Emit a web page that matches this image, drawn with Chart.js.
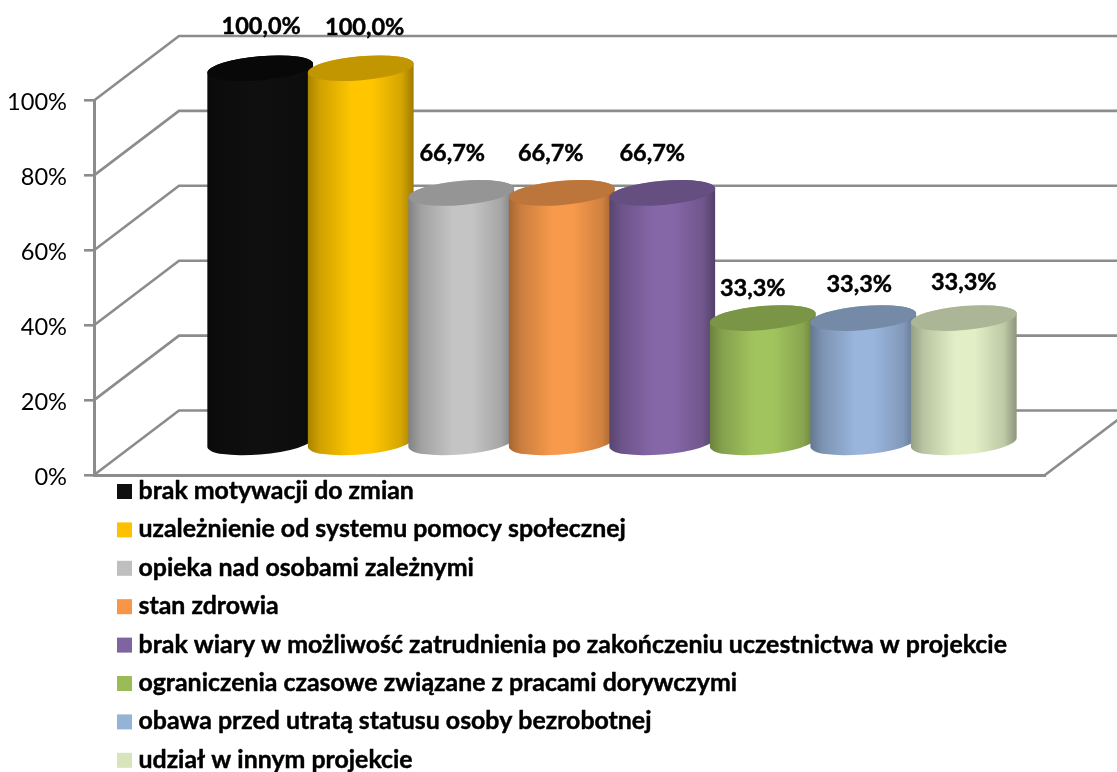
<!DOCTYPE html>
<html>
<head>
<meta charset="utf-8">
<style>html,body{margin:0;padding:0;background:#fff}canvas{display:block}</style>
<script src="https://cdn.jsdelivr.net/npm/chart.js@4"></script>
</head>
<body>
<canvas id="c" width="1117" height="772"></canvas>
<script>
const categories = ['Series'];
const seriesNames = [
  'brak motywacji do zmian',
  'uzależnienie od systemu pomocy społecznej',
  'opieka nad osobami zależnymi',
  'stan zdrowia',
  'brak wiary w możliwość zatrudnienia po zakończeniu uczestnictwa w projekcie',
  'ograniczenia czasowe związane z pracami dorywczymi',
  'obawa przed utratą statusu osoby bezrobotnej',
  'udział w innym projekcie'
];
const seriesValues = [100, 100, 66.7, 66.7, 66.7, 33.3, 33.3, 33.3];
const seriesColors = ['#0f0f0f', '#ffc600', '#c4c4c4', '#f89a4c', '#8567a8', '#a2c45e', '#99b5dc', '#e2efc6'];
const legendColors = ['#0f0f0f', '#ffc000', '#bfbfbf', '#f79646', '#8064a2', '#9bbb59', '#95b3d7', '#d8e4bc'];
const yTickValues = [0, 20, 40, 60, 80, 100];

/* layout of the 3D look */
const DEPTH_X = 85, DEPTH_Y = 64.5, WALL_END = 1135;
const labelNudge = [[1, -42], [4, -41], [-9, -40], [-11, -40], [-10, -40], [-10, -30], [-4, -34], [0, -36]];
const FONT = 'Lato, sans-serif';
const GRID = '#8c8c8c';

function shade(hex, k) {
  const n = parseInt(hex.slice(1), 16);
  const f = v => Math.round(Math.min(255, v * k));
  return `rgb(${f(n >> 16)},${f((n >> 8) & 255)},${f(n & 255)})`;
}

function heavyText(ctx, txt, x, y) {
  ctx.strokeStyle = '#000';
  ctx.lineWidth = 0.45;
  ctx.lineJoin = 'round';
  ctx.strokeText(txt, x, y);
  ctx.fillText(txt, x, y);
}

const walls = {
  id: 'walls',
  beforeDatasetsDraw(chart) {
    const { ctx, scales: { y }, chartArea: a } = chart;
    ctx.save();
    ctx.strokeStyle = GRID;
    ctx.lineWidth = 2.6;
    ctx.lineJoin = 'miter';
    yTickValues.forEach(v => {
      const py = y.getPixelForValue(v);
      ctx.beginPath();
      ctx.moveTo(a.left, py);
      ctx.lineTo(a.left + DEPTH_X, py - DEPTH_Y);
      ctx.lineTo(WALL_END, py - DEPTH_Y);
      ctx.stroke();
    });
    ctx.beginPath();
    ctx.moveTo(a.right, a.bottom);
    ctx.lineTo(a.right + DEPTH_X, a.bottom - DEPTH_Y);
    ctx.stroke();
    ctx.restore();

    /* cylinders, drawn from the library's own bar elements */
    const rot = -5 * Math.PI / 180;
    chart.data.datasets.forEach((ds, i) => {
      const el = chart.getDatasetMeta(i).data[0];
      const cx = el.x + DEPTH_X / 2, yt = el.y - DEPTH_Y / 2, yb = el.base - DEPTH_Y / 2 + 1;
      const rx = el.width / 2, ry = rx * 0.227;
      const t0 = Math.atan(-(ry / rx) * Math.tan(rot));
      const c = seriesColors[i];
      const g = ctx.createLinearGradient(cx - rx, 0, cx + rx, 0);
      g.addColorStop(0, shade(c, 0.66));
      g.addColorStop(0.12, shade(c, 0.82));
      g.addColorStop(0.42, shade(c, 1));
      g.addColorStop(0.6, shade(c, 1));
      g.addColorStop(0.88, shade(c, 0.84));
      g.addColorStop(1, shade(c, 0.62));
      ctx.save();
      ctx.beginPath();
      ctx.ellipse(cx, yb, rx, ry, rot, t0, t0 + Math.PI);
      ctx.ellipse(cx, yt, rx, ry, rot, t0 + Math.PI, t0 + 2 * Math.PI);
      ctx.closePath();
      ctx.fillStyle = g;
      ctx.fill();
      ctx.beginPath();
      ctx.ellipse(cx, yt, rx, ry, rot, 0, 2 * Math.PI);
      ctx.fillStyle = shade(c, i === 0 ? 0.55 : 0.76);
      ctx.fill();
      ctx.restore();
    });
    return false;
  },
  afterDraw(chart) {
    const { ctx } = chart;
    ctx.save();
    ctx.fillStyle = '#000';
    ctx.textBaseline = 'middle';
    ctx.font = `bold 23.5px ${FONT}`;
    ctx.textAlign = 'center';
    chart.data.datasets.forEach((ds, i) => {
      const el = chart.getDatasetMeta(i).data[0];
      const txt = ds.data[0].toFixed(1).replace('.', ',') + '%';
      heavyText(ctx, txt, el.x + DEPTH_X / 2 + labelNudge[i][0], el.y - DEPTH_Y / 2 + labelNudge[i][1]);
    });
    ctx.textAlign = 'left';
    ctx.font = `bold 24.9px ${FONT}`;
    chart.data.datasets.forEach((ds, i) => {
      const y = 491 + i * 38.4;
      ctx.fillStyle = legendColors[i];
      ctx.fillRect(117, y - 7, 15, 15);
      ctx.fillStyle = '#000';
      heavyText(ctx, ds.label, 138.5, y);
    });
    ctx.restore();
  }
};

new Chart(document.getElementById('c'), {
  type: 'bar',
  data: {
    labels: categories,
    datasets: seriesNames.map((n, i) => ({
      label: n,
      data: [seriesValues[i]],
      backgroundColor: legendColors[i],
      categoryPercentage: 0.8455,
      barPercentage: 1.056
    }))
  },
  options: {
    responsive: false,
    animation: false,
    layout: { padding: { left: 0, right: 72, top: 100.5, bottom: 297 } },
    plugins: { legend: { display: false }, tooltip: { enabled: false } },
    scales: {
      x: {
        display: true,
        grid: { drawOnChartArea: false, drawTicks: false, color: GRID },
        border: { color: GRID, width: 3 },
        ticks: { display: false }
      },
      y: {
        min: 0, max: 100,
        afterFit(s) { s.width = 94; },
        afterBuildTicks(s) { s.ticks = yTickValues.map(v => ({ value: v })); },
        grid: { drawOnChartArea: false, color: GRID, lineWidth: 2.6, tickLength: 10 },
        border: { color: GRID, width: 3 },
        ticks: {
          padding: 17,
          labelOffset: 2,
          color: '#000',
          font: { family: FONT, size: 23.6 },
          callback: v => v + '%'
        }
      }
    }
  },
  plugins: [walls]
});
</script>
</body>
</html>
